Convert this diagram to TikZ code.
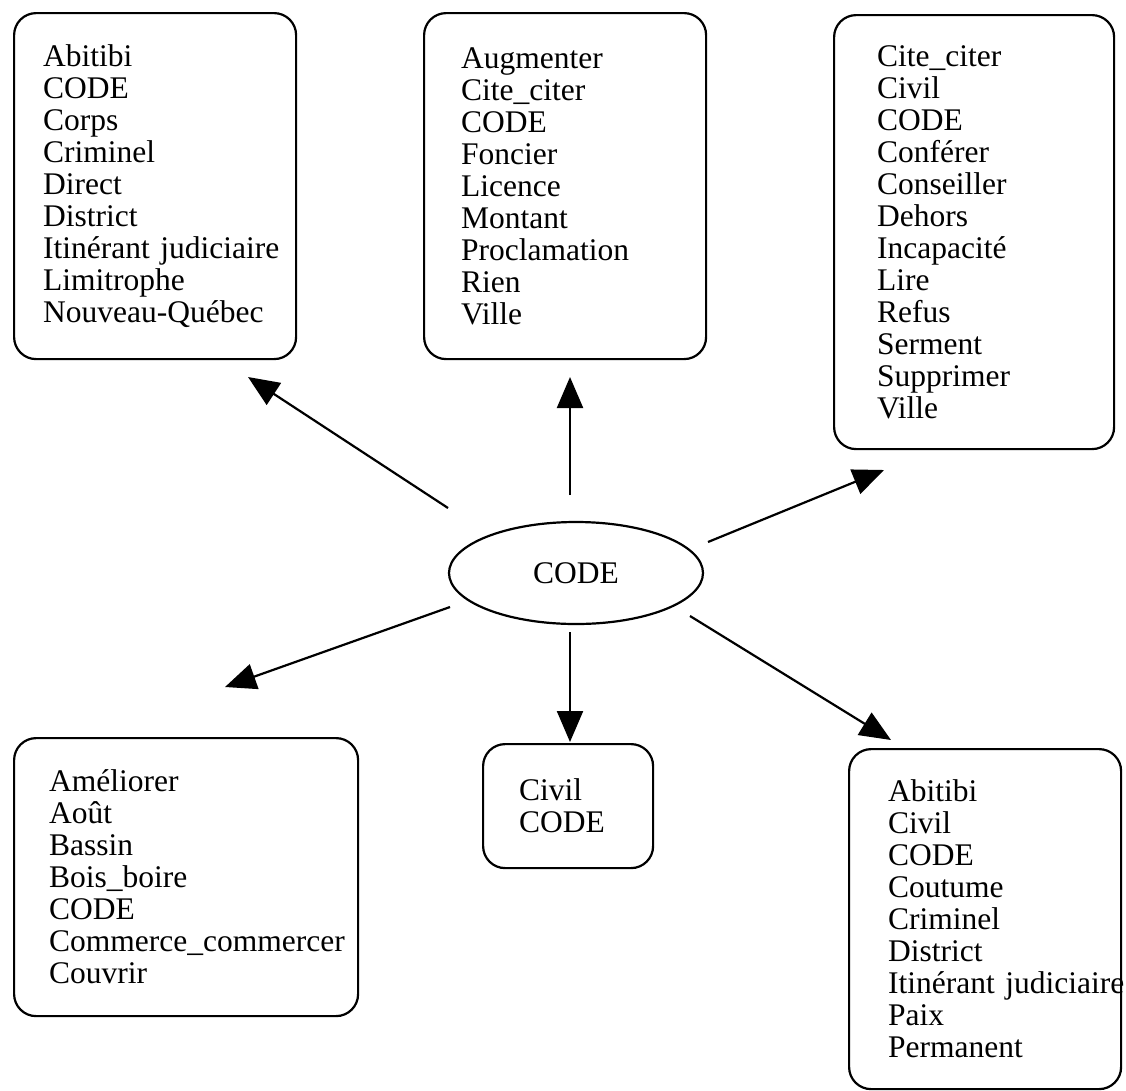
\documentclass[tikz,border=0pt]{standalone}
\usepackage{fontspec}
\setmainfont{Liberation Serif}
\usetikzlibrary{shapes.geometric,arrows.meta,positioning}

\tikzset{
  wordbox/.style={draw, rounded corners=22pt, line width=2.2pt, align=left, anchor=north west, inner ysep=0pt},
  arr/.style={-{Triangle[length=31pt, width=26pt]}, line width=2.2pt}
}

\begin{document}
\begin{tikzpicture}[x=1pt, y=-1pt, font=\fontsize{31.5pt}{32pt}\selectfont]
    \useasboundingbox (0,0) rectangle (1126,1090);
    % Centre
    \node[draw, ellipse, line width=2.2pt, minimum width=254pt, minimum height=102pt] (code) at (576,573) {CODE};

    % Boxes, top row
    \node[wordbox, minimum width=282pt, minimum height=346pt, inner xsep=29pt, text width=224pt] (abitibi) at (13,12)
        {Abitibi\\CODE\\Corps\\Criminel\\Direct\\District\\\mbox{Itinérant judiciaire}\\Limitrophe\\Nouveau-Québec};
    \node[wordbox, minimum width=282pt, minimum height=346pt, inner xsep=37pt, text width=208pt] (augmenter) at (423,12)
        {Augmenter\\Cite\_citer\\CODE\\Foncier\\Licence\\Montant\\Proclamation\\Rien\\Ville};
    \node[wordbox, minimum width=280pt, minimum height=434pt, inner xsep=43pt, text width=194pt] (cite) at (833,14)
        {Cite\_citer\\Civil\\CODE\\Conférer\\Conseiller\\Dehors\\Incapacité\\Lire\\Refus\\Serment\\Supprimer\\Ville};

    % Boxes, bottom row
    \node[wordbox, minimum width=344pt, minimum height=278pt, inner xsep=35pt, text width=274pt] (ameliorer) at (13,737)
        {Améliorer\\Août\\Bassin\\Bois\_boire\\CODE\\Commerce\_commercer\\Couvrir};
    \node[wordbox, minimum width=170pt, minimum height=124pt, inner xsep=36pt, text width=98pt] (civil) at (482,743)
        {Civil\\CODE};
    \node[wordbox, minimum width=272pt, minimum height=340pt, inner xsep=39pt, text width=194pt] (abitibi2) at (848,748)
        {Abitibi\\Civil\\CODE\\Coutume\\Criminel\\District\\\mbox{Itinérant judiciaire}\\Paix\\Permanent};

    % Arrow ends
    \coordinate (ulfrom) at (448,508);  \coordinate (ulto) at (248,377);
    \coordinate (upfrom) at (570,495);  \coordinate (upto) at (570,377);
    \coordinate (urfrom) at (708,542);  \coordinate (urto) at (884,470);
    \coordinate (llfrom) at (450,607);  \coordinate (llto) at (225,687);
    \coordinate (dnfrom) at (570,632);  \coordinate (dnto) at (570,742);
    \coordinate (lrfrom) at (690,616);  \coordinate (lrto) at (891,740);

    % Arrows
    \draw[arr] (ulfrom) -- (ulto);
    \draw[arr] (upfrom) -- (upto);
    \draw[arr] (urfrom) -- (urto);
    \draw[arr] (llfrom) -- (llto);
    \draw[arr] (dnfrom) -- (dnto);
    \draw[arr] (lrfrom) -- (lrto);
\end{tikzpicture}
\end{document}
